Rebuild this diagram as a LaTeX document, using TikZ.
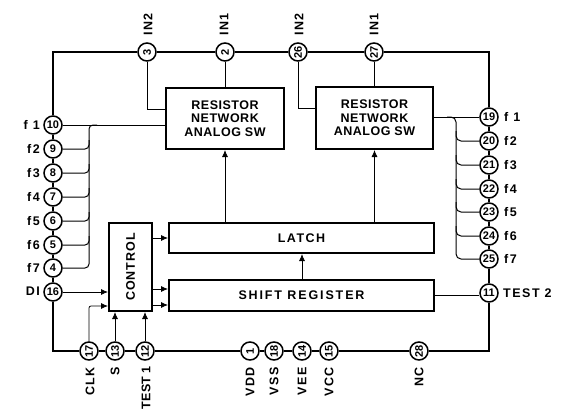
\documentclass[tikz,border=0pt]{standalone}
\usepackage{fontspec}
\setmainfont{Liberation Sans}
\usetikzlibrary{arrows.meta}
\newcommand{\spaced}[1]{\addfontfeature{LetterSpace=#1}}
\tikzset{
  pin/.style={circle,draw=black,fill=white,line width=1.5pt,minimum size=18pt,inner sep=0pt,font=\fontsize{11}{11}\selectfont\bfseries},
  rpin/.style={pin,rotate=90},
  block/.style={draw=black,fill=white,line width=2pt,inner sep=0pt,align=center,font=\fontsize{12.5}{13.5}\selectfont\bfseries},
  bus/.style={line width=2.8pt,line join=miter},
  wire/.style={line width=1pt},
  sig/.style={line width=.8pt,-{Latex[length=7pt,width=6pt]}},
  lbl/.style={font=\fontsize{12.5}{13}\selectfont\bfseries\spaced{12},inner sep=0pt},
  toplbl/.style={lbl,rotate=90,anchor=west},
  botlbl/.style={lbl,rotate=90,anchor=east},
  leftlbl/.style={lbl,anchor=east},
  rightlbl/.style={lbl,anchor=west}
}
\begin{document}
\begin{tikzpicture}[x=1pt,y=-1pt]
\useasboundingbox (0,0) rectangle (562,412);
% blocks
\node[block,minimum width=118pt,minimum height=61pt] (rnl) at (225,118.5) {\spaced{4}RESISTOR\\\spaced{4}NETWORK\\\spaced{4}ANALOG SW};
\node[block,minimum width=117pt,minimum height=62pt] (rnr) at (374.5,118) {\spaced{4}RESISTOR\\\spaced{4}NETWORK\\\spaced{4}ANALOG SW};
\node[block,minimum width=43pt,minimum height=88pt] (ctl) at (130.5,267) {\rotatebox{90}{\spaced{8}CONTROL}};
\node[block,minimum width=265pt,minimum height=30pt] (latch) at (301.5,238) {\spaced{12}LATCH};
\node[block,minimum width=265pt,minimum height=31pt] (shift) at (301.5,295.5) {\spaced{15}SHIFT REGISTER};
% pins: left
\node[pin] (p10) at (53,125) {10};
\node[pin] (p9) at (53,149) {9};
\node[pin] (p8) at (53,173) {8};
\node[pin] (p7) at (53,197) {7};
\node[pin] (p6) at (53,221) {6};
\node[pin] (p5) at (53,245) {5};
\node[pin] (p4) at (53,268) {4};
\node[pin] (p16) at (53,292) {16};
% pins: top
\node[rpin] (p3) at (147,52) {3};
\node[rpin] (p2) at (225,52) {2};
\node[rpin] (p26) at (298,52) {26};
\node[rpin] (p27) at (374,52) {27};
% pins: right
\node[pin] (p19) at (489,117) {19};
\node[pin] (p20) at (489,141) {20};
\node[pin] (p21) at (489,165) {21};
\node[pin] (p22) at (489,189) {22};
\node[pin] (p23) at (489,212) {23};
\node[pin] (p24) at (489,236) {24};
\node[pin] (p25) at (489,259) {25};
\node[pin] (p11) at (489,293) {11};
% pins: bottom
\node[rpin] (p17) at (89,351) {17};
\node[rpin] (p13) at (115,351) {13};
\node[rpin] (p12) at (145,351) {12};
\node[rpin] (p1) at (250,351) {1};
\node[rpin] (p18) at (274,351) {18};
\node[rpin] (p14) at (302,351) {14};
\node[rpin] (p15) at (329,351) {15};
\node[rpin] (p28) at (419,351) {28};
% heavy outline
\draw[bus] (p10) |- (p3);
\draw[bus] (p3) -- (p2);
\draw[bus] (p2) -- (p26);
\draw[bus] (p26) -- (p27);
\draw[bus] (p27) -| (p19);
\foreach \a/\b in {p10/p9,p9/p8,p8/p7,p7/p6,p6/p5,p5/p4,p4/p16,
                   p19/p20,p20/p21,p21/p22,p22/p23,p23/p24,p24/p25,p25/p11,
                   p17/p13,p13/p12,p12/p1,p1/p18,p18/p14,p14/p15,p15/p28}
  \draw[bus] (\a) -- (\b);
\draw[bus] (p16) |- (p17);
\draw[bus] (p11) |- (p28);
% input wires
\draw[wire] (p2) -- (p2 |- rnl.north);
\draw[wire] (p27) -- (p27 |- rnr.north);
\coordinate (jl) at (rnl.west |- 0,109);
\coordinate (jr) at (rnr.west |- 0,108);
\draw[wire] (p3) |- (jl);
\draw[wire] (p26) |- (jr);
% f-bus left
\coordinate (bl) at (89,125);
\draw[wire] (p10) -- (p10 -| rnl.west);
\draw[wire,rounded corners=4pt] (p4) -| (bl) -- ([xshift=8pt]bl);
\foreach \p in {p9,p8,p7,p6,p5}
  \draw[wire,rounded corners=4pt] (\p) -| ([yshift=9pt]\p -| bl);
% f-bus right
\coordinate (br) at (456,117);
\draw[wire] (p19) -- (p19 -| rnr.east);
\draw[wire,rounded corners=5pt] ([xshift=-9pt]br) -- (br) |- (p25);
\foreach \p in {p20,p21,p22,p23,p24}
  \draw[wire,rounded corners=5pt] (\p) -| ([yshift=10pt]\p -| br);
% arrows
\draw[sig] (rnl.south |- latch.north) -- (rnl.south);
\draw[sig] (rnr.south |- latch.north) -- (rnr.south);
\draw[sig] (p14 |- shift.north) -- (p14 |- latch.south);
\draw[sig] (ctl.east |- latch.west) -- (latch.west);
\draw[sig] ([yshift=6.5pt]ctl.east |- shift.west) -- ([yshift=6.5pt]shift.west);
\draw[sig] ([yshift=-9.5pt]ctl.east |- shift.west) -- ([yshift=-9.5pt]shift.west);
\draw[sig] (p16) -- (p16 -| ctl.west);
\coordinate (c17) at (ctl.west |- 0,306);
\draw[sig,rounded corners=2pt] (p17) |- (c17);
\draw[sig] (p13) -- (p13 |- ctl.south);
\draw[sig] (p12) -- (p12 |- ctl.south);
\draw[wire] (shift.east) -- (shift.east -| p11.west);
% labels
\node[toplbl] (l3) at (148,36) {IN2};
\node[toplbl] (l2) at (224,36) {IN1};
\node[toplbl] (l26) at (299,36) {IN2};
\node[toplbl] (l27) at (374,36) {IN1};
\node[leftlbl] (l10) at (40,125) {f 1};
\node[leftlbl] (l9) at (40,149) {f2};
\node[leftlbl] (l8) at (40,173) {f3};
\node[leftlbl] (l7) at (40,197) {f4};
\node[leftlbl] (l6) at (40,221) {f5};
\node[leftlbl] (l5) at (40,245) {f6};
\node[leftlbl] (l4) at (40,268) {f7};
\node[leftlbl] (l16) at (40,291) {DI};
\node[rightlbl] (l19) at (504,117) {f 1};
\node[rightlbl] (l20) at (504,141) {f2};
\node[rightlbl] (l21) at (504,165) {f3};
\node[rightlbl] (l22) at (504,189) {f4};
\node[rightlbl] (l23) at (504,212) {f5};
\node[rightlbl] (l24) at (504,236) {f6};
\node[rightlbl] (l25) at (504,259) {f7};
\node[rightlbl] (l11) at (503,293) {TEST 2};
\node[botlbl] (l17) at (90,367) {CLK};
\node[botlbl] (l13) at (115,367) {S};
\node[botlbl,font=\fontsize{12.5}{13}\selectfont\bfseries\spaced{1}] (l12) at (146,366) {TEST 1};
\node[botlbl] (l1) at (250,367) {VDD};
\node[botlbl] (l18) at (274,367) {VSS};
\node[botlbl] (l14) at (302,367) {VEE};
\node[botlbl] (l15) at (329,367) {VCC};
\node[botlbl] (l28) at (419,367) {NC};
\end{tikzpicture}
\end{document}
